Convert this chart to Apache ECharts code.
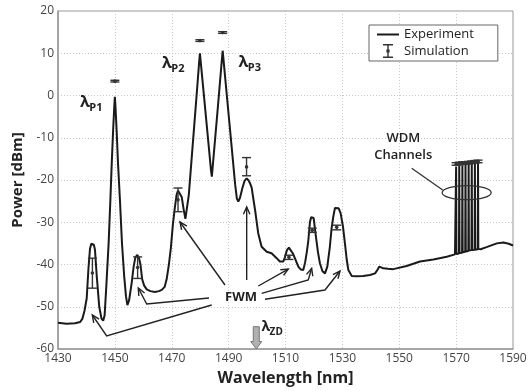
<!DOCTYPE html>
<html><head><meta charset="utf-8">
<script src="https://cdn.jsdelivr.net/npm/echarts@6/dist/echarts.min.js"></script>
<style>html,body{margin:0;padding:0;background:#fff}#c{width:528px;height:391px}</style>
</head><body><div id="c"></div>
<script>
// ---- Experiment (measured spectrum) ----
const expWl = [1430,1433,1436,1437.8,1438.6,1439.3,1440.1,1440.7,1441.25,1441.7,1442.1,1442.6,1443.0,1443.6,1444.5,1445.3,1445.9,1446.4,1447.0,1447.8,1448.4,1448.9,1449.4,1449.8,1450.0,1450.2,1450.6,1451.1,1451.8,1452.5,1453.3,1453.9,1454.4,1455.0,1455.9,1456.6,1457.2,1457.9,1458.5,1459.0,1459.6,1460.3,1461.2,1462.5,1464.1,1465.5,1466.5,1467.5,1468.2,1469.0,1469.7,1470.4,1471.1,1471.7,1472.2,1472.8,1473.5,1474.2,1474.8,1475.3,1476.0,1477.0,1478.0,1479.0,1479.6,1479.9,1480.3,1481.2,1482.2,1483.2,1483.8,1484.1,1484.5,1485.4,1486.4,1487.4,1487.9,1488.4,1489.4,1490.4,1491.4,1492.3,1492.9,1493.4,1494.0,1494.8,1495.6,1496.35,1497.0,1497.6,1498.1,1498.7,1499.3,1500.4,1501.6,1503.4,1505.1,1506.9,1508.0,1508.7,1509.2,1509.8,1510.5,1511.2,1511.9,1512.6,1513.3,1514.5,1515.4,1516.25,1516.9,1517.5,1518.0,1518.6,1519.0,1519.4,1519.9,1520.7,1521.4,1522.1,1523.0,1523.9,1524.7,1525.6,1526.2,1526.8,1527.4,1528.0,1528.7,1529.4,1530.2,1530.9,1531.5,1532.1,1533.3,1535.0,1537.3,1539.7,1541.5,1542.3,1543.0,1544.4,1546.0,1547.9,1552.6,1557.3,1562.0,1566.7,1569.6,
  1569.9,1570.0,1570.1,1571.0,1571.1,1571.2,1572.1,1572.2,1572.3,1573.2,1573.3,1573.4,1574.3,1574.4,1574.5,1575.4,1575.5,1575.6,1576.5,1576.6,1576.7,1577.6,1577.7,1577.8,
  1578.6,1580.7,1584.3,1586.6,1588.5,1590];
const expPow = [-53.8,-54.0,-53.9,-53.6,-52.8,-51,-48,-41,-36.3,-35.1,-34.85,-35.3,-36.5,-42.5,-50,-52.8,-53.3,-52,-45,-35,-25,-16,-8,-2.5,-0.3,-2.5,-8,-16,-25,-35,-43,-47.5,-49.6,-48.5,-44.4,-40.5,-38.3,-37.75,-38.5,-40,-43.5,-45,-45.9,-46.3,-46.5,-46.3,-46,-45.3,-43.5,-40,-36,-30.5,-26.5,-23.5,-22.5,-22.8,-24,-27,-29.2,-29.5,-23.5,-14.9,-6.3,2.3,7.6,10.0,7.2,0.8,-6.3,-13.4,-17.7,-19.2,-16.1,-9.1,-1.3,6.7,10.6,7.0,-0.2,-7.4,-14.6,-21.1,-24.4,-25.1,-24.2,-22,-20.2,-19.6,-20.1,-20.9,-21.8,-24.5,-27.1,-32.6,-35.8,-37,-37.35,-38.5,-39.3,-39.7,-39.3,-38.3,-36.6,-36.0,-36.4,-37.4,-38.5,-40.5,-41.2,-41.3,-39.5,-37,-34.5,-30,-28.8,-28.45,-29,-33.4,-37,-39.7,-41.6,-42.1,-40.5,-35.8,-31.5,-28.7,-26.6,-26.15,-26.7,-27.9,-31,-35,-38.7,-41.3,-42.7,-42.8,-42.7,-42.5,-42.1,-41.3,-40.5,-40.9,-41.0,-41.1,-40.35,-39.3,-38.8,-38.15,-37.6,
  -37.6,-16.8,-37.5,-37.4,-16.7,-37.3,-37.2,-16.5,-37.1,-37.0,-16.4,-36.9,-36.8,-16.3,-36.7,-36.6,-16.2,-36.6,-36.5,-16.0,-36.5,-36.4,-15.9,-36.3,
  -36.4,-35.9,-35.0,-34.8,-35.1,-35.5];

// ---- Simulation (points with error range) ----
const simWl   = [1442.1,1450.0,1458.0,1472.2,1479.9,1487.9,1496.3,1511.2,1519.4,1528.0,1570.0,1571.1,1572.2,1573.3,1574.4,1575.5,1576.6,1577.7];
const simPow  = [-42.0,3.4,-40.7,-24.7,13.0,14.9,-16.9,-38.3,-31.9,-31.2,-16.2,-16.1,-16.0,-16.0,-15.9,-15.8,-15.7,-15.6];
const simLow  = [-45.6,3.2,-43.3,-27.5,12.8,14.7,-19.0,-38.8,-32.4,-31.8,-16.5,-16.4,-16.3,-16.3,-16.2,-16.1,-16.0,-15.9];
const simHigh = [-38.5,3.6,-38.2,-21.9,13.2,15.1,-14.7,-37.8,-31.4,-30.7,-15.9,-15.8,-15.7,-15.7,-15.6,-15.5,-15.4,-15.3];

// ---- Axes ----
const xMin = 1430, xMax = 1590, xStep = 20;
const yMin = -60, yMax = 20, yStep = 10;

// ---- Annotations (data coordinates) ----
const fwmArrows = [
  [[1484.04,-49.59],[1447.12,-56.92],[1442.06,-51.95]],
  [[1483.09,-47.93],[1461.19,-49.35],[1458.24,-45.56]],
  [[1488.72,-44.85],[1472.9,-29.94]],
  [[1496.35,-43.67],[1496.35,-26.39]],
  [[1500.43,-45.09],[1510.98,-41.07]],
  [[1501.62,-46.82],[1518.01,-43.67],[1519.2,-40.9]],
  [[1502.78,-48.24],[1523.88,-46.04],[1529.16,-41.54]]
];
const lambdaLabels = [
  {pos:[1437.74,-1.54], sub:'P1', size:16, subSize:11},
  {pos:[1466.57,7.69], sub:'P2', size:16, subSize:11},
  {pos:[1493.47,7.93], sub:'P3', size:16, subSize:11},
  {pos:[1501.55,-54.8], sub:'ZD', size:14, subSize:10}
];
const FONT = 'Open Sans';

const chart = echarts.init(document.getElementById('c'), null, {renderer:'canvas'});
const expData = expWl.map((w,i)=>[w, expPow[i]]);
const simData = simWl.map((w,i)=>[w, simPow[i], simLow[i], simHigh[i]]);

chart.setOption({
  animation:false,
  backgroundColor:'#fff',
  grid:{left:58,right:15,top:11,bottom:42,show:true,borderColor:'#999',borderWidth:1,outerBoundsMode:'none'},
  legend:{
    orient:'vertical', left:369, top:25,
    padding:[3,24,3,8], itemGap:3, itemWidth:22, itemHeight:14,
    borderColor:'#666', borderWidth:1, backgroundColor:'#fff',
    textStyle:{fontFamily:FONT,fontSize:13,color:'#222'},
    data:[
      {name:'Experiment', icon:'path://M0,0H22V2H0Z', itemStyle:{color:'#1a1a1a'}},
      {name:'Simulation', icon:'path://M0,0H10V1.6H5.7V12.4H10V14H0V12.4H4.3V1.6H0Z M3.4,5.4H6.6V8.6H3.4Z', itemStyle:{color:'#333'}}
    ]
  },
  xAxis:{
    type:'value', min:xMin, max:xMax, interval:xStep,
    name:'Wavelength [nm]', nameLocation:'middle', nameGap:21,
    nameTextStyle:{fontFamily:FONT,fontWeight:'bold',fontSize:16,color:'#222'},
    axisLine:{show:true,onZero:false,lineStyle:{color:'#999',width:1.5}},
    axisTick:{show:false},
    axisLabel:{fontFamily:FONT,fontSize:12,color:'#444',margin:4,formatter:v=>String(v)},
    splitLine:{show:true,lineStyle:{color:'#c8c8c8',type:[1,2],width:1}}
  },
  yAxis:{
    type:'value', min:yMin, max:yMax, interval:yStep,
    name:'Power [dBm]', nameLocation:'middle', nameGap:29,
    nameTextStyle:{fontFamily:FONT,fontWeight:'bold',fontSize:15,color:'#222'},
    axisLine:{show:true,onZero:false,lineStyle:{color:'#999',width:1.5}},
    axisTick:{show:false},
    axisLabel:{fontFamily:FONT,fontSize:12,color:'#444',margin:4,formatter:v=>String(v)},
    splitLine:{show:true,lineStyle:{color:'#c8c8c8',type:[1,2],width:1}}
  },
  series:[
    {
      name:'Experiment', type:'line', data:expData, showSymbol:false, symbol:'none',
      lineStyle:{color:'#1a1a1a',width:2}, itemStyle:{color:'#1a1a1a'}, z:2
    },
    {
      name:'Simulation', type:'custom', data:simData,
      encode:{x:0,y:[1,2,3]}, itemStyle:{color:'#333'}, z:3,
      renderItem:function(params, api){
        const x = api.value(0);
        const c = api.coord([x, api.value(1)]);
        const lo = api.coord([x, api.value(2)]);
        const hi = api.coord([x, api.value(3)]);
        const hw = 4.5;
        const st = {stroke:'#333', lineWidth:1.4};
        return {type:'group', children:[
          {type:'line', shape:{x1:c[0],y1:hi[1],x2:c[0],y2:lo[1]}, style:st},
          {type:'line', shape:{x1:c[0]-hw,y1:hi[1],x2:c[0]+hw,y2:hi[1]}, style:st},
          {type:'line', shape:{x1:c[0]-hw,y1:lo[1],x2:c[0]+hw,y2:lo[1]}, style:st},
          {type:'circle', shape:{cx:c[0],cy:c[1],r:1.8}, style:{fill:'#333'}}
        ]};
      }
    }
  ]
});

const P = (w,p)=>chart.convertToPixel({gridIndex:0},[w,p]);
const g = [];
// FWM arrows
fwmArrows.forEach(arr=>{
  const pts = arr.map(a=>P(a[0],a[1]));
  g.push({type:'polyline', shape:{points:pts}, style:{stroke:'#222',lineWidth:1.4,fill:null}, z:10});
  const t = pts[pts.length-1], s = pts[pts.length-2];
  const ang = Math.atan2(t[1]-s[1], t[0]-s[0]);
  const L = 8, a = 0.42;
  const p1 = [t[0]-L*Math.cos(ang-a), t[1]-L*Math.sin(ang-a)];
  const p2 = [t[0]-L*Math.cos(ang+a), t[1]-L*Math.sin(ang+a)];
  g.push({type:'polyline', shape:{points:[p1,t,p2]}, style:{stroke:'#222',lineWidth:1.4,fill:null}, z:10});
});
// FWM label
const fp = P(1494.35,-47.69);
g.push({type:'text', x:fp[0], y:fp[1], style:{text:'FWM', fontFamily:FONT, fontWeight:'bold', fontSize:13, fill:'#222', align:'center', verticalAlign:'middle'}, z:11});
// lambda labels
lambdaLabels.forEach(l=>{
  const p = P(l.pos[0], l.pos[1]);
  g.push({type:'text', x:p[0], y:p[1], style:{text:'λ', fontFamily:FONT, fontWeight:'bold', fontSize:l.size, fill:'#222', align:'left', verticalAlign:'middle'}, z:11});
  g.push({type:'text', x:p[0]+l.size*0.58, y:p[1]+l.size*0.38, style:{text:l.sub, fontFamily:FONT, fontWeight:'bold', fontSize:l.subSize, fill:'#222', align:'left', verticalAlign:'middle'}, z:11});
});
// zero-dispersion gray arrow
const at = P(1499.72,-54.72), ab = P(1499.72,-60);
const sw = 3, hw = 5.5, hl = 7.5;
g.push({type:'polygon', shape:{points:[
  [at[0]-sw,at[1]],[at[0]+sw,at[1]],[at[0]+sw,ab[1]-hl],[at[0]+hw,ab[1]-hl],[ab[0],ab[1]],[at[0]-hw,ab[1]-hl],[at[0]-sw,ab[1]-hl]
]}, style:{fill:'#b0b0b0',stroke:'#777',lineWidth:1}, z:11});
// WDM annotation
const w1 = P(1551.42,-10.13), w2 = P(1551.42,-14.08);
g.push({type:'text', x:w1[0], y:w1[1], style:{text:'WDM', fontFamily:FONT, fontWeight:600, fontSize:13, fill:'#222', align:'center', verticalAlign:'middle'}, z:11});
g.push({type:'text', x:w2[0], y:w2[1], style:{text:'Channels', fontFamily:FONT, fontWeight:600, fontSize:13, fill:'#222', align:'center', verticalAlign:'middle'}, z:11});
const ec = P(1573.7,-23.0);
g.push({type:'ellipse', shape:{cx:ec[0],cy:ec[1],rx:24.5,ry:7}, style:{stroke:'#333',lineWidth:1.3,fill:null}, z:11});
const l1 = P(1565.27,-22.37), l2 = P(1554.37,-17.23);
g.push({type:'line', shape:{x1:l1[0],y1:l1[1],x2:l2[0],y2:l2[1]}, style:{stroke:'#333',lineWidth:1.3}, z:11});

chart.setOption({graphic:g});
</script></body></html>
